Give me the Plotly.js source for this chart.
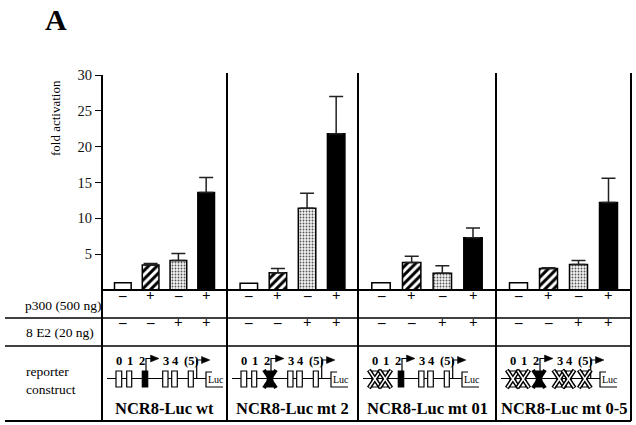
<!DOCTYPE html>
<html>
<head>
<meta charset="utf-8">
<script src="https://cdn.plot.ly/plotly-3.0.1.min.js"></script>
<style>body{margin:0;background:#fff}#chart{width:636px;height:425px}</style>
</head>
<body>
<div id="chart"></div>
<script>
// fold activation of the NCR8 reporters
var constructs = ["NCR8-Luc wt", "NCR8-Luc mt 2", "NCR8-Luc mt 01", "NCR8-Luc mt 0-5"];
var conditions = ["ctrl", "p300", "E2", "p300+E2"];
var p300Signs = ["–", "+", "–", "+"];
var e2Signs = ["–", "–", "+", "+"];

var foldWt = [1.0, 3.5, 4.1, 13.6];
var foldMt2 = [0.95, 2.4, 11.4, 21.8];
var foldMt01 = [1.0, 3.85, 2.35, 7.3];
var foldMt05 = [1.0, 3.0, 3.55, 12.2];

var errWt = [0, 0.2, 1.0, 2.1];
var errMt2 = [0, 0.6, 2.1, 5.2];
var errMt01 = [0, 0.85, 1.05, 1.35];
var errMt05 = [0, 0.1, 0.55, 3.4];

// boxes 0..5 crossed out in each construct
var mutatedBoxes = [[], [2], [0, 1], [0, 1, 2, 3, 4, 5]];
var boxLabels = ["0", "1", "2", "3", "4", "(5)"];

var folds = [foldWt, foldMt2, foldMt01, foldMt05];
var errs = [errWt, errMt2, errMt01, errMt05];

// fill style per condition: empty, hatched, dotted, solid
var barStyles = [
    {color: "white", pattern: {shape: ""}},
    {color: "white", pattern: {shape: "/", fgcolor: "black", bgcolor: "white", size: 6, solidity: 0.5}},
    {color: "white", pattern: {shape: ".", fgcolor: "#555", bgcolor: "#f4f4f4", size: 3, solidity: 0.3}},
    {color: "black", pattern: {shape: ""}}
];

// pixel -> paper helpers (plot area is 102..631 x 73..421)
var PL = 102, PT = 73, PW = 529, PH = 348;
function fx(x) { return (x - PL) / PW; }
function fy(y) { return (PT + PH - y) / PH; }
var edges = [102, 227, 358, 496, 631];
var serif = "Liberation Serif";

function axName(i) { return i ? "x" + (i + 1) : "x"; }

var traces = [];
folds.forEach(function(f, i) {
    conditions.forEach(function(c, j) {
        var st = barStyles[j];
        traces.push({
            type: "bar",
            x: [c],
            y: [f[j]],
            xaxis: axName(i),
            yaxis: "y",
            width: 0.6,
            marker: {
                color: st.color,
                line: {color: "black", width: 1.5},
                pattern: st.pattern
            },
            error_y: {
                type: "data",
                symmetric: false,
                array: [errs[i][j] > 0 ? errs[i][j] : NaN],
                arrayminus: [],
                color: "#222",
                thickness: 1.5,
                width: 7
            },
            showlegend: false,
            hoverinfo: "skip"
        });
    });
});

var shapes = [];
var annotations = [];

function seg(x0, y0, x1, y1, w, c) {
    shapes.push({type: "line", xref: "paper", yref: "paper",
        x0: fx(x0), y0: fy(y0), x1: fx(x1), y1: fy(y1),
        line: {color: c || "black", width: w}});
}
function box(x0, y0, x1, y1, fill) {
    shapes.push({type: "rect", xref: "paper", yref: "paper",
        x0: fx(x0), y0: fy(y0), x1: fx(x1), y1: fy(y1),
        fillcolor: fill, line: {color: "black", width: 1.2}});
}
function poly(pts, fill) {
    var d = pts.map(function(p, k) { return (k ? "L" : "M") + fx(p[0]) + "," + fy(p[1]); }).join(" ");
    if (fill) d += " Z";
    shapes.push({type: "path", xref: "paper", yref: "paper", path: d,
        fillcolor: fill || "rgba(0,0,0,0)", line: {color: "black", width: fill ? 0.5 : 1.2}});
}
function text(x, y, t, size, extra) {
    var a = {xref: "paper", yref: "paper", x: fx(x), y: fy(y), text: t, showarrow: false,
        font: {family: serif, size: size, color: "black"}, xanchor: "center", yanchor: "middle"};
    for (var k in extra) a[k] = extra[k];
    annotations.push(a);
}

// table frame
seg(102, 290, 631, 290, 2);
seg(5, 318, 631, 318, 1.5);
seg(5, 346, 631, 346, 1.5);
seg(5, 421, 631, 421, 2);
edges.forEach(function(x, i) { seg(x, i ? 73 : 75, x, 421, 2); });

// row labels
text(23, 305, "p300 (500 ng)", 13.5, {xanchor: "left"});
text(24, 332, "8 E2 (20 ng)", 13.5, {xanchor: "left"});
text(24, 380, "reporter<br>construct", 13.5, {xanchor: "left", align: "left"});
text(55.5, 19, "<b>A</b>", 30);
text(55, 118, "fold activation", 13, {textangle: -90});

// +/- signs under each bar
conditions.forEach(function(c, j) {
    for (var i = 0; i < 4; i++) {
        annotations.push({xref: axName(i), yref: "paper", x: c, y: fy(305), text: "<b>" + p300Signs[j] + "</b>",
            showarrow: false, font: {family: serif, size: 15, color: "black"}});
        annotations.push({xref: axName(i), yref: "paper", x: c, y: fy(332), text: "<b>" + e2Signs[j] + "</b>",
            showarrow: false, font: {family: serif, size: 15, color: "black"}});
    }
});

// reporter construct diagrams
var boxX = [[14, 19.7], [24.7, 29.7], [40.3, 45.7], [60.7, 66], [69.7, 75.3], [86.3, 91.3]];
var labelX = [16.5, 27.5, 39.5, 63.5, 73.5, 89];
constructs.forEach(function(name, i) {
    var L = edges[i];
    seg(L + 5, 378.5, L + 104, 378.5, 1.2);
    boxX.forEach(function(b, k) {
        box(L + b[0], 371, L + b[1], 387, k === 2 ? "black" : "white");
        text(L + labelX[k], 361, "<b>" + boxLabels[k] + "</b>", 12.5);
    });
    // transcription start arrows
    poly([[L + 44, 371], [L + 44, 358.5], [L + 49, 358.5]]);
    poly([[L + 48.5, 355], [L + 57, 358.5], [L + 48.5, 362]], "black");
    poly([[L + 94.7, 378.5], [L + 94.7, 360], [L + 100, 360]]);
    poly([[L + 99.5, 356.5], [L + 108, 360], [L + 99.5, 363.5]], "black");
    // Luc bracket
    poly([[L + 110, 372], [L + 104, 372], [L + 104, 387], [L + 121, 387]]);
    text(L + 113.5, 379.5, "Luc", 10);
    // crossed out boxes
    mutatedBoxes[i].forEach(function(k) {
        var cx = L + (boxX[k][0] + boxX[k][1]) / 2;
        if (k === 2) {
            seg(cx - 6, 370, cx + 6, 388, 4);
            seg(cx - 6, 388, cx + 6, 370, 4);
        } else {
            seg(cx - 6, 370, cx + 6, 388, 4.5);
            seg(cx - 6, 388, cx + 6, 370, 4.5);
            seg(cx - 5.6, 370.6, cx + 5.6, 387.4, 1.6, "white");
            seg(cx - 5.6, 387.4, cx + 5.6, 370.6, 1.6, "white");
        }
    });
    text((L + edges[i + 1]) / 2, 408, "<b>" + name + "</b>", 16.5);
});

var layout = {
    width: 636,
    height: 425,
    margin: {l: PL, r: 636 - PL - PW, t: PT, b: 425 - PT - PH},
    paper_bgcolor: "white",
    plot_bgcolor: "white",
    barmode: "overlay",
    yaxis: {
        domain: [fy(290), fy(75)],
        range: [0, 30],
        tickvals: [5, 10, 15, 20, 25, 30],
        ticks: "outside",
        ticklen: 6,
        tickwidth: 1,
        tickcolor: "black",
        showgrid: false,
        zeroline: false,
        showline: false,
        tickfont: {family: serif, size: 14.5, color: "#111"},
        anchor: "x"
    },
    shapes: shapes,
    annotations: annotations
};

for (var i = 0; i < 4; i++) {
    layout["xaxis" + (i ? i + 1 : "")] = {
        domain: [fx(edges[i]), fx(edges[i + 1])],
        type: "category",
        categoryorder: "array",
        categoryarray: conditions,
        range: [-0.75, 3.75],
        anchor: "y",
        showticklabels: false,
        ticks: "",
        showgrid: false,
        zeroline: false,
        showline: false
    };
}

Plotly.newPlot("chart", traces, layout, {displayModeBar: false, staticPlot: true});
</script>
</body>
</html>
